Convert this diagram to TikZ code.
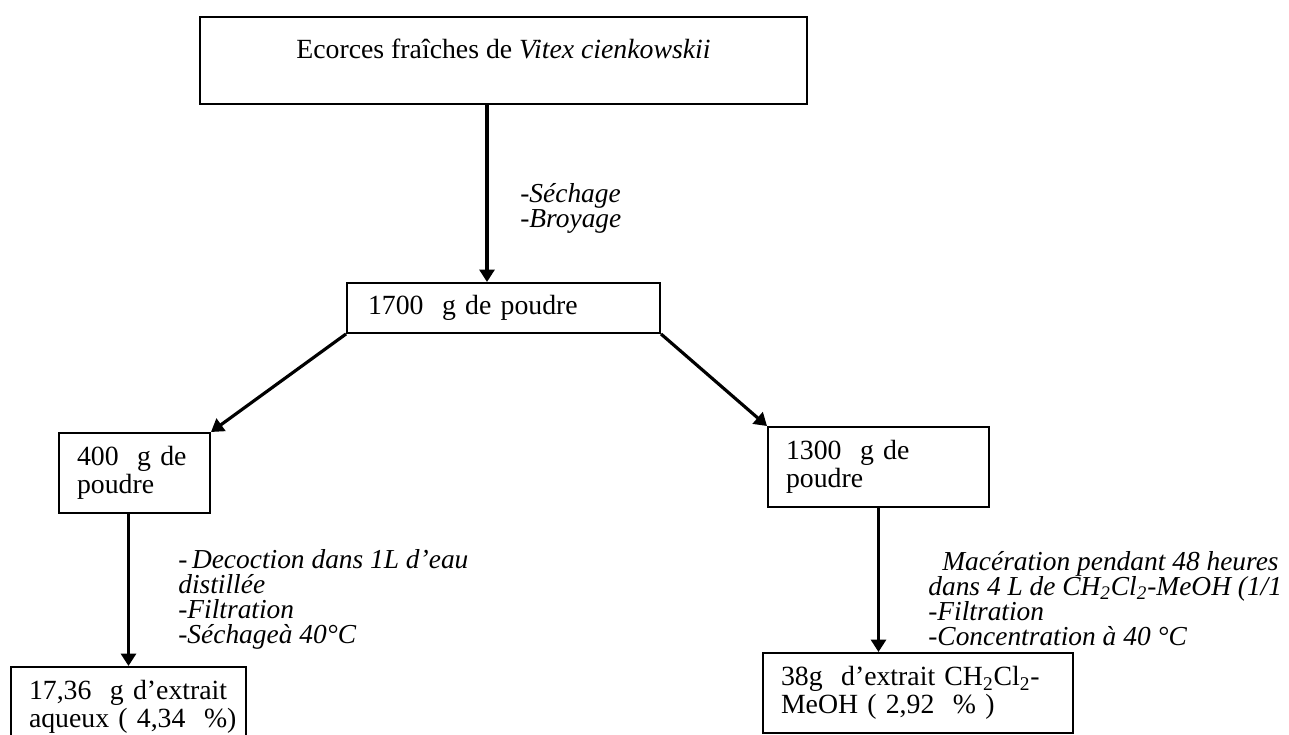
\documentclass[tikz,border=0pt]{standalone}
\usepackage{fontspec}
\setmainfont{Liberation Serif}
\usetikzlibrary{arrows.meta}

\begin{document}
\begin{tikzpicture}[
  boite/.style={draw, line width=1.1pt, minimum height=1.6cm, inner xsep=0.36cm, inner ysep=0pt, align=left},
  fleche/.style={line width=1.8pt, -{Triangle[length=0.25cm,width=0.3cm]}},
  etape/.style={inner sep=0pt, align=left, font=\itshape\fontsize{15.6}{14.2}\selectfont},
  font=\fontsize{15.8}{15.6}\selectfont]
\path[use as bounding box, clip] (0,0) rectangle (25.78,14.70);
\node[draw, line width=1.1pt, minimum width=12.14cm, inner ysep=0pt, text height=0.83cm, text depth=0.91cm] (ecorces) at (10.07,13.49) {Ecorces fraîches de \textit{Vitex cienkowskii}};
\node[boite, text width=5.42cm, inner xsep=0.42cm, minimum height=1.0cm] (poudre) at (10.07,8.54) {1700~~g de poudre};
\node[boite, text width=2.30cm] (p400) at (2.69,5.24) {400~~g~de\\poudre};
\node[boite, text width=3.70cm] (p1300) at (17.57,5.36) {1300~~g~de\\poudre};
\node[boite, text width=3.98cm] (aqueux) at (2.57,0.56) {17,36~~g~d’extrait\\aqueux~(~4,34~~\%)};
\node[boite, text width=5.48cm] (organique) at (18.36,0.84) {38g~~d’extrait~CH\textsubscript{2}Cl\textsubscript{2}-\\MeOH~(~2,92~~\%~)};
\node[etape, anchor=west] (broyage) at (10.40,10.54) {-Séchage\\-Broyage};
\node[etape, anchor=west] (decoction) at (3.56,2.72) {-\,Decoction dans 1L d’eau\\distillée\\-Filtration\\-Séchageà 40°C};
\node[etape, anchor=west] (maceration) at (18.56,2.72) {\hspace{0.28cm}Macération pendant 48 heures\\dans 4 L de CH\textsubscript{2}Cl\textsubscript{2}-MeOH (1/1\\-Filtration\\-Concentration à 40 °C};
\draw[fleche] ([xshift=-0.33cm]ecorces.south) -- ([xshift=-0.33cm]poudre.north);
\draw[fleche] (poudre.south west) -- (p400.north east);
\draw[fleche] (poudre.south east) -- (p1300.north west);
\draw[fleche] (aqueux.north |- p400.south) -- (aqueux.north);
\draw[fleche] (p1300.south) -- (p1300.south |- organique.north);
\end{tikzpicture}
\end{document}
